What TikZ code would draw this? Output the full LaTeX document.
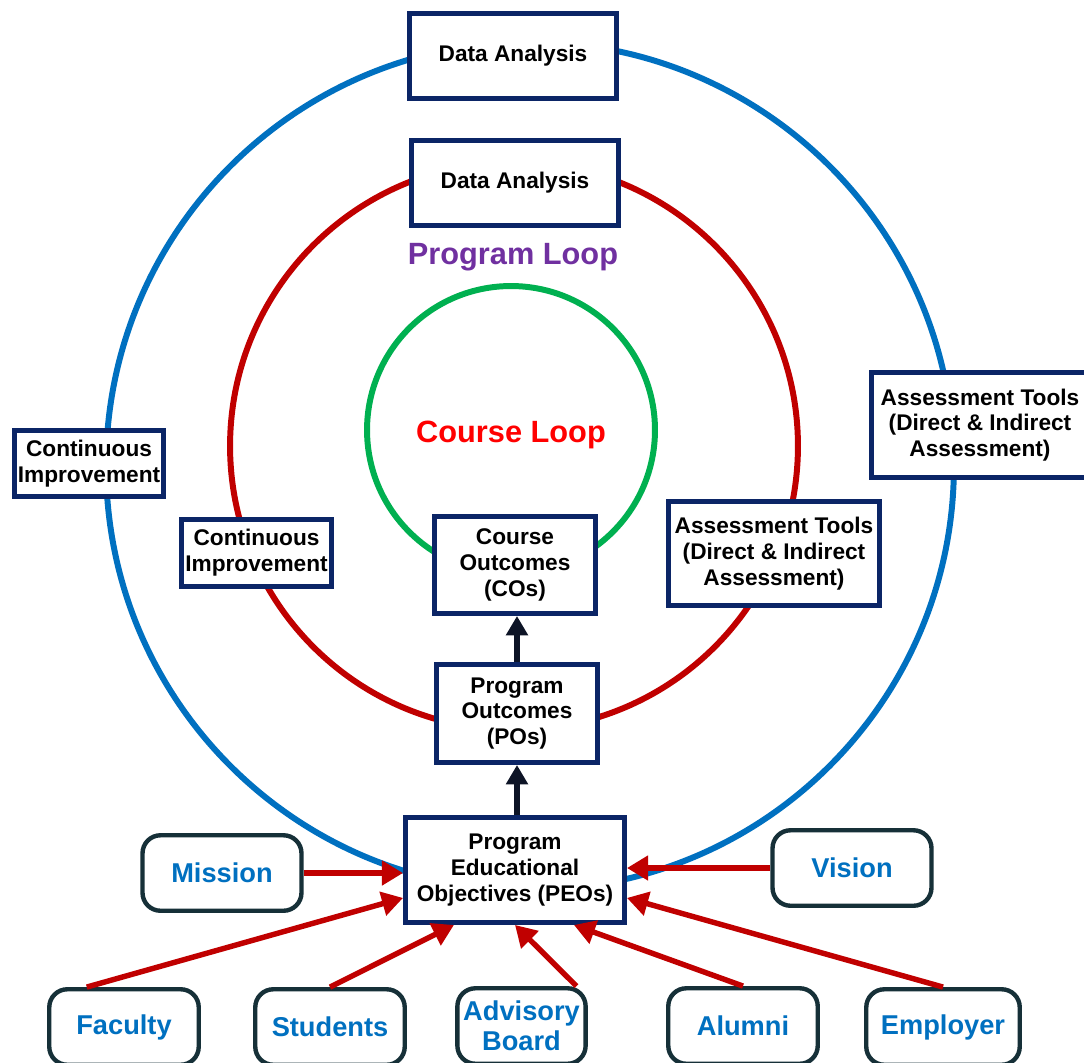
\documentclass[tikz,border=0pt]{standalone}
\usepackage{fontspec}
\setmainfont{Liberation Sans}
\usepackage{xcolor}
\usepackage{tikz}
\usetikzlibrary{positioning,arrows.meta}

\definecolor{navy}{HTML}{0B2566}
\definecolor{tealdark}{HTML}{163038}
\definecolor{loopblue}{HTML}{0070C0}
\definecolor{loopred}{HTML}{C00000}
\definecolor{loopgreen}{HTML}{00B050}
\definecolor{looppurple}{HTML}{7030A0}
\definecolor{coursered}{HTML}{FF0000}
\definecolor{arrowblack}{HTML}{0D1426}

\begin{document}
\begin{tikzpicture}[x=0.02cm, y=-0.02cm,
        stage/.style={draw=navy, line width=2.8pt, fill=white, align=center, inner sep=2pt, font=\bfseries\fontsize{12.9}{14.7}\selectfont},
        source/.style={draw=tealdark, line width=2.5pt, rounded corners=0.36cm, fill=white, align=center, text=loopblue, minimum height=1.51cm, font=\bfseries\fontsize{15.5}{17}\selectfont},
        loop/.style={line width=3.4pt},
        looplabel/.style={font=\bfseries\fontsize{17.5}{20}\selectfont},
        link/.style={-{Triangle[length=12pt, width=13.5pt]}, line width=3.1pt, draw=loopred},
        climb/.style={-{Triangle[length=11pt, width=12pt]}, line width=2.9pt, draw=arrowblack}
    ]
        \useasboundingbox (0,0) rectangle (1084,1062);

        % loops
        \draw[loop, draw=loopblue] (530,466) circle[radius=8.48cm];
        \draw[loop, draw=loopred] (514,446) circle[radius=5.68cm];
        \draw[loop, draw=loopgreen] (511,430) circle[radius=2.88cm];

        \node[looplabel, text=looppurple] (programloop) at (513,257) {Program Loop};
        \node[looplabel, text=coursered] (courseloop) at (511,435) {Course Loop};

        % stages on the loops
        \node[stage, minimum width=4.14cm, minimum height=1.7cm] (dataouter) at (513,56) {Data Analysis};
        \node[stage, minimum width=4.14cm, minimum height=1.7cm] (datainner) at (515,183) {Data Analysis};
        \node[stage, minimum width=2.94cm, minimum height=1.32cm] (contouter) at (89,463.5) {Continuous\\Improvement};
        \node[stage, minimum width=2.92cm, minimum height=1.34cm] (continner) at (256.5,553) {Continuous\\Improvement};
        \node[stage, minimum width=4.34cm, minimum height=2.1cm] (assessouter) at (980,425) {Assessment Tools\\(Direct \& Indirect\\Assessment)};
        \node[stage, minimum width=4.22cm, minimum height=2.08cm] (assessinner) at (774,553.5) {Assessment Tools\\(Direct \& Indirect\\Assessment)};
        \node[stage, minimum width=3.22cm, minimum height=1.94cm] (cos) at (515,565) {Course\\Outcomes\\(COs)};
        \node[stage, minimum width=3.22cm, minimum height=1.96cm] (pos) at (517,713.5) {Program\\Outcomes\\(POs)};
        \node[stage, minimum width=4.38cm, minimum height=2.1cm] (peos) at (515,870) {Program\\Educational\\Objectives (PEOs)};

        % inputs
        \node[source, minimum width=3.18cm] (mission) at (222,873) {Mission};
        \node[source, minimum width=3.18cm] (vision) at (852,868) {Vision};
        \node[source, minimum width=2.99cm] (faculty) at (124,1027) {Faculty};
        \node[source, minimum width=2.99cm] (students) at (330,1027) {Students};
        \node[source, minimum width=2.41cm] (advisory) at (521.5,1026) {Advisory\\Board};
        \node[source, minimum width=2.99cm] (alumni) at (743,1026) {Alumni};
        \node[source, minimum width=3.07cm] (employer) at (943,1027) {Employer};

        \draw[climb] (pos.south |- peos.north) -- (pos.south);
        \draw[climb] (pos.north) -- (pos.north |- cos.south);

        \draw[link] (mission.east) -- (mission.east -| peos.west);
        \draw[link] (vision.west) -- (vision.west -| peos.east);
        \draw[link] (faculty.133) -- (peos.194);
        \draw[link] (students.north) -- (peos.222);
        \draw[link] (advisory.36) -- (peos.south);
        \draw[link] (alumni.north) -- (peos.317);
        \draw[link] (employer.north) -- (peos.346);
    \end{tikzpicture}
\end{document}
